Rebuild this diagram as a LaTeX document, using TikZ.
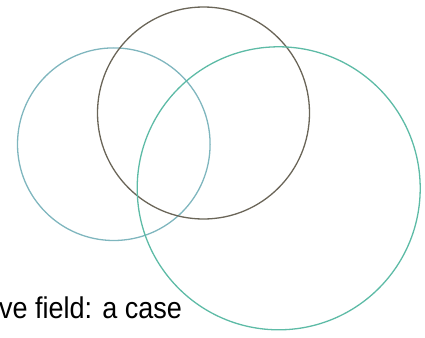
\documentclass[tikz,border=0pt]{standalone}
\usepackage{fontspec}
\setmainfont{Liberation Sans}
\definecolor{leftc}{HTML}{7FB6BE}
\definecolor{midc}{HTML}{6A6558}
\definecolor{rightc}{HTML}{5DBBA6}
\begin{document}
\begin{tikzpicture}[x=1pt,y=-1pt,
  ring/.style={line width=1.3pt},
  caption/.style={anchor=base east,inner sep=0pt,font=\fontsize{30}{34}\selectfont,xscale=0.9}]
\useasboundingbox (0,0) rectangle (425,337);
\clip (0,0) rectangle (425,337);
\draw[ring,leftc] (113.8,144.2) circle (96.3);
\draw[ring,midc] (203.5,113) circle (106);
\draw[ring,rightc] (278.7,188.3) circle (141.5);
\node[caption] (cap) at (182,318) {ve field: a case};
\end{tikzpicture}
\end{document}
